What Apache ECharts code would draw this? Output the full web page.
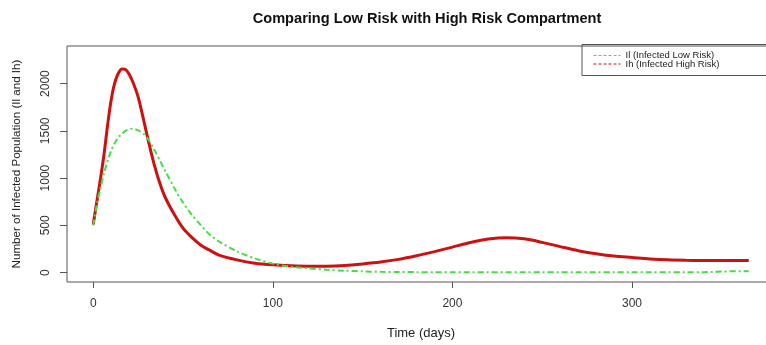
<!DOCTYPE html>
<html>
<head>
<meta charset="utf-8">
<script src="https://cdn.jsdelivr.net/npm/echarts@6/dist/echarts.min.js"></script>
<style>
html,body{margin:0;padding:0;background:#fff;}
#c{width:766px;height:345px;}
</style>
</head>
<body>
<div id="c"></div>
<script>
var titleText = "Comparing Low Risk with High Risk Compartment";
var xTitle = "Time (days)";
var yTitle = "Number of Infected Population (Il and Ih)";
var seriesNames = ["Il (Infected Low Risk)", "Ih (Infected High Risk)"];
var xTicks = [0, 100, 200, 300];
var yTicks = [0, 500, 1000, 1500, 2000];

var days = [0,2,4,6,8,10,12,14,16,18,20,22,25,28,31,34,37,40,45,50,55,60,65,70,80,90,100,110,120,130,140,150,160,170,180,190,200,210,220,230,240,250,260,270,280,290,300,310,320,330,340,345,350,365];

var lowRisk = [500,720,890,1050,1180,1290,1370,1430,1470,1500,1518,1523,1505,1470,1400,1300,1190,1080,900,740,610,500,400,330,225,150,95,62,45,30,20,13,8,6,5,5,5,5,5,5,5,5,5,5,5,5,5,5,5,5,5,6,12,14];

var highRisk = [510,750,990,1250,1560,1830,2010,2110,2155,2150,2100,2020,1860,1620,1370,1140,950,800,620,470,370,290,235,185,135,100,82,72,67,68,76,92,112,140,178,222,270,318,355,370,358,320,275,232,200,175,160,145,135,130,128,127,127,127];

function pairs(xs, ys){ return xs.map(function(x,i){ return [x, ys[i]]; }); }
function plain(v){ return String(v); }

var chart = echarts.init(document.getElementById('c'), null, {renderer:'canvas'});
var font = '"Liberation Sans", Arial, sans-serif';
chart.setOption({
  animation: false,
  backgroundColor: '#ffffff',
  textStyle: {fontFamily: font},
  title: {
    text: titleText, left: 422, top: 6, textAlign: 'center',
    textStyle: {fontFamily: font, fontWeight: 'bold', fontSize: 14.6, color: '#111'}
  },
  grid: {left: 67, top: 46, width: 708, height: 236, show: true, borderColor: '#555', borderWidth: 1, backgroundColor: 'transparent', outerBoundsMode: 'none', containLabel: false},
  xAxis: {
    type: 'value', min: -14.6, max: 379.6,
    name: xTitle, nameLocation: 'middle', nameGap: 45,
    nameTextStyle: {fontFamily: font, fontSize: 13, color: '#222'},
    axisLine: {show: false, onZero: false},
    splitLine: {show: false},
    axisTick: {show: true, length: 6, lineStyle: {color: '#555'}, customValues: xTicks},
    axisLabel: {fontFamily: font, fontSize: 12, color: '#333', margin: 16, customValues: xTicks, formatter: plain}
  },
  yAxis: {
    type: 'value', min: -99.5, max: 2398,
    name: yTitle, nameLocation: 'middle', nameGap: 44,
    nameTextStyle: {fontFamily: font, fontSize: 11.6, color: '#222'},
    axisLine: {show: false, onZero: false},
    splitLine: {show: false},
    axisTick: {show: true, length: 7, lineStyle: {color: '#555'}, customValues: yTicks},
    axisLabel: {fontFamily: font, fontSize: 12, color: '#333', rotate: 90, margin: 15, customValues: yTicks, formatter: plain}
  },
  legend: {
    orient: 'vertical', left: 593, top: 50.5, itemGap: -1.5, itemWidth: 27, itemHeight: 8,
    padding: 0,
    textStyle: {fontFamily: font, fontSize: 9.5, color: '#222'},
    itemStyle: {opacity: 0},
    lineStyle: {width: 1, type: [3,2]},
    data: seriesNames
  },
  graphic: [{
    type: 'rect', shape: {x: 582, y: 44.5, width: 200, height: 31},
    style: {fill: 'none', stroke: '#555', lineWidth: 1}, z: 100, silent: true
  }],
  series: [
    {
      name: seriesNames[0], type: 'line', data: pairs(days, lowRisk),
      smooth: 0.3, symbol: 'none', z: 3,
      lineStyle: {color: '#44dd44', width: 2, type: [6,3,2,3]},
      itemStyle: {color: '#44dd44'}
    },
    {
      name: seriesNames[1], type: 'line', data: pairs(days, highRisk),
      smooth: 0.3, symbol: 'none', z: 2,
      lineStyle: {color: '#cc1111', width: 3},
      itemStyle: {color: '#cc1111'}
    }
  ]
});
</script>
</body>
</html>
